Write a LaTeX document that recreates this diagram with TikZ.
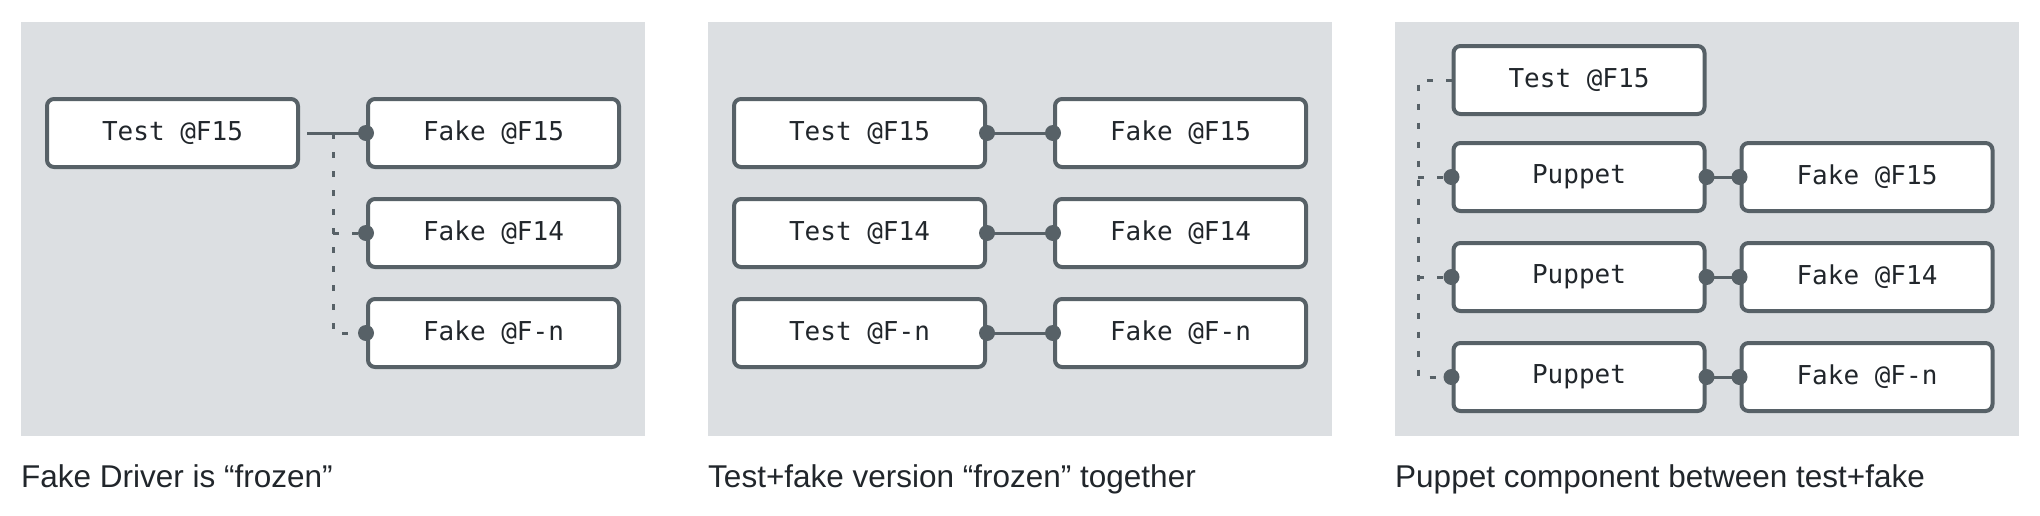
\documentclass[tikz,border=0pt]{standalone}
\usepackage{fontspec}
\setmainfont{Liberation Sans}
\newfontfamily\monof{DejaVu Sans Mono}
\definecolor{panelbg}{RGB}{220,223,226}
\definecolor{edge}{RGB}{87,97,103}
\definecolor{ink}{RGB}{33,38,43}
\tikzset{
  panel/.style={fill=panelbg, draw=none},
  box/.style={draw=edge, line width=4pt, fill=white, rounded corners=7pt,
    minimum width=251pt, minimum height=68pt, inner sep=0pt,
    font=\monof\fontsize{26}{30}\selectfont, text=ink},
  conn/.style={draw=edge, line width=3pt},
  dashconn/.style={draw=edge, line width=3pt, dash pattern=on 6pt off 13pt},
  dotmark/.style={fill=edge},
  caption/.style={anchor=base west, inner sep=0pt, text=ink,
    font=\fontsize{31.5}{36}\selectfont}
}
\begin{document}
\begin{tikzpicture}[x=1pt,y=-1pt]
\useasboundingbox (0,0) rectangle (2040,515);
% panels
\fill[panel] (21,22) rectangle (645,436);
\fill[panel] (708,22) rectangle (1332,436);
\fill[panel] (1395,22) rectangle (2019,436);

% ---------- panel 1 ----------
\node[box] (a-t15) at (172.5,133) {Test @F15};
\node[box] (a-f15) at (493.5,133) {Fake @F15};
\node[box] (a-f14) at (493.5,233) {Fake @F14};
\node[box] (a-fn)  at (493.5,333) {Fake @F-n};
\coordinate (a-v) at (333,133);
\draw[dashconn] (a-v) |- (a-fn.west);
\draw[dashconn] (a-v |- a-f14.west) -- (a-f14.west);
\draw[conn] ([xshift=7pt]a-t15.east) -- (a-f15.west);
\foreach \n in {a-f15,a-f14,a-fn} \fill[dotmark] (\n.west) circle (8pt);
\node[caption] (a-cap) at (21,487) {Fake Driver is “frozen”};

% ---------- panel 2 ----------
\node[box] (b-t15) at (859.5,133) {Test @F15};
\node[box] (b-t14) at (859.5,233) {Test @F14};
\node[box] (b-tn)  at (859.5,333) {Test @F-n};
\node[box] (b-f15) at (1180.5,133) {Fake @F15};
\node[box] (b-f14) at (1180.5,233) {Fake @F14};
\node[box] (b-fn)  at (1180.5,333) {Fake @F-n};
\foreach \l/\r in {b-t15/b-f15,b-t14/b-f14,b-tn/b-fn}{
  \draw[conn] (\l.east) -- (\r.west);
  \fill[dotmark] (\l.east) circle (8pt);
  \fill[dotmark] (\r.west) circle (8pt);
}
\node[caption] (b-cap) at (708,487) {Test+fake version “frozen” together};

% ---------- panel 3 ----------
\node[box] (c-t15) at (1579,80) {Test @F15};
\node[box] (c-p1) at (1579,177) {Puppet};
\node[box] (c-p2) at (1579,277) {Puppet};
\node[box] (c-p3) at (1579,377) {Puppet};
\node[box] (c-f15) at (1867,177) {Fake @F15};
\node[box] (c-f14) at (1867,277) {Fake @F14};
\node[box] (c-fn)  at (1867,377) {Fake @F-n};
\coordinate (c-v) at (1418,80);
\draw[dashconn] (c-t15.west) -- (c-v) |- (c-p3.west);
\draw[dashconn] (c-v |- c-p1.west) -- (c-p1.west);
\draw[dashconn] (c-v |- c-p2.west) -- (c-p2.west);
\foreach \l/\r in {c-p1/c-f15,c-p2/c-f14,c-p3/c-fn}{
  \draw[conn] (\l.east) -- (\r.west);
  \fill[dotmark] (\l.west) circle (8pt);
  \fill[dotmark] (\l.east) circle (8pt);
  \fill[dotmark] (\r.west) circle (8pt);
}
\node[caption] (c-cap) at (1395,487) {Puppet component between test+fake};
\end{tikzpicture}
\end{document}
